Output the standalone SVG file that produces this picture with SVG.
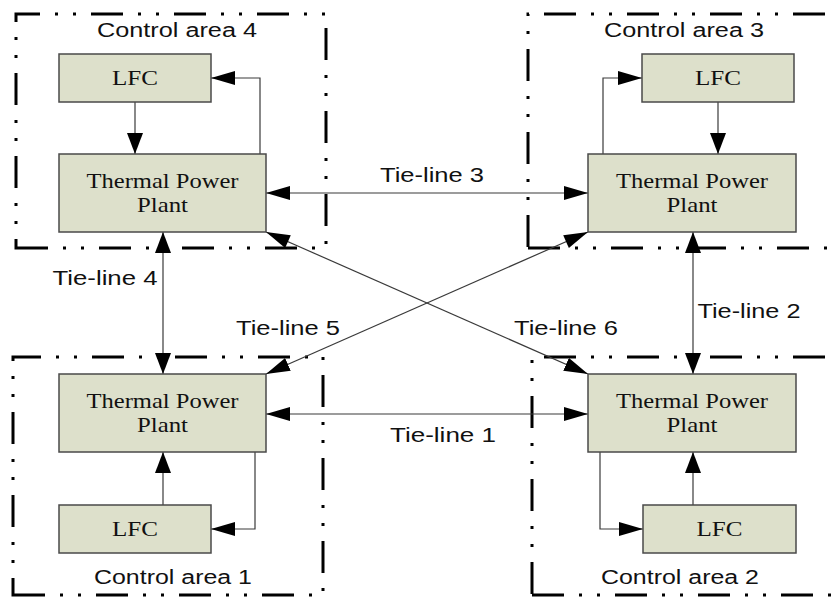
<svg xmlns="http://www.w3.org/2000/svg" width="833" height="597" viewBox="0 0 833 597">
<style>
.area{fill:none;stroke:#000;stroke-width:3;stroke-dasharray:32 15 3 15 3 15}
.box{fill:#dde0cb;stroke:#4a4a4a;stroke-width:1.5}
.serif{font-family:"Liberation Serif","Times New Roman",serif;font-size:21px;fill:#111;text-anchor:middle}
.sans{font-family:"Liberation Sans",Arial,sans-serif;font-size:20px;fill:#111;text-anchor:middle}
.ln{fill:none;stroke:#3a3a3a;stroke-width:1.2}
.h{marker-end:url(#ah)}
.hs{marker-start:url(#ahs)}
.v{marker-end:url(#av)}
.vs{marker-start:url(#avs)}
</style>
<defs>
<marker id="ah" markerUnits="userSpaceOnUse" markerWidth="26" markerHeight="16" refX="24" refY="7" orient="auto"><path d="M0,0 L24,7 L0,14 z" fill="#000"/></marker>
<marker id="ahs" markerUnits="userSpaceOnUse" markerWidth="26" markerHeight="16" refX="0" refY="7" orient="auto"><path d="M24,0 L0,7 L24,14 z" fill="#000"/></marker>
<marker id="av" markerUnits="userSpaceOnUse" markerWidth="24" markerHeight="18" refX="21" refY="8" orient="auto"><path d="M0,0 L21,8 L0,16 z" fill="#000"/></marker>
<marker id="avs" markerUnits="userSpaceOnUse" markerWidth="24" markerHeight="18" refX="0" refY="8" orient="auto"><path d="M21,0 L0,8 L21,16 z" fill="#000"/></marker>
</defs>

<g id="area4">
<path class="area" d="M16,248 H326 V14 H16 Z"/>
<text class="sans" x="177" y="37" textLength="160" lengthAdjust="spacingAndGlyphs">Control area 4</text>
</g>
<g id="area3">
<path class="area" d="M528,248 H850 V14 H528 Z"/>
<text class="sans" x="684" y="37" textLength="160" lengthAdjust="spacingAndGlyphs">Control area 3</text>
</g>
<g id="area1">
<path class="area" d="M13,595 H323 V357 H13 Z"/>
<text class="sans" x="173" y="584" textLength="158" lengthAdjust="spacingAndGlyphs">Control area 1</text>
</g>
<g id="area2">
<path class="area" d="M532,595 H850 V357 H532 Z"/>
<text class="sans" x="680" y="584" textLength="158" lengthAdjust="spacingAndGlyphs">Control area 2</text>
</g>

<g id="connectors">
<path class="ln v" d="M135,102 V154"/>
<path class="ln h" d="M260,154 V78 H211"/>
<path class="ln v" d="M718,102 V154"/>
<path class="ln h" d="M603,154 V78 H642"/>
<path class="ln v" d="M163,505 V452"/>
<path class="ln h" d="M255,452 V529 H211"/>
<path class="ln v" d="M693,505 V452"/>
<path class="ln h" d="M600,452 V529 H643"/>
<path class="ln h hs" d="M266,193 H588"/>
<path class="ln h hs" d="M266,414 H588"/>
<path class="ln v vs" d="M163,232 V374"/>
<path class="ln v vs" d="M693,232 V374"/>
<path class="ln h hs" d="M588,232 L266,374"/>
<path class="ln h hs" d="M266,232 L588,374"/>
</g>

<g id="lfc4"><rect class="box" x="59" y="54" width="152" height="48"/><text class="serif" x="135" y="85" textLength="46" lengthAdjust="spacingAndGlyphs">LFC</text></g>
<g id="tpp4"><rect class="box" x="59" y="154" width="207" height="78"/><text class="serif" x="162.5" y="188" textLength="152" lengthAdjust="spacingAndGlyphs">Thermal Power</text><text class="serif" x="162.5" y="212" textLength="51" lengthAdjust="spacingAndGlyphs">Plant</text></g>

<g id="lfc3"><rect class="box" x="642" y="54" width="152" height="48"/><text class="serif" x="718" y="85" textLength="46" lengthAdjust="spacingAndGlyphs">LFC</text></g>
<g id="tpp3"><rect class="box" x="588" y="154" width="208" height="78"/><text class="serif" x="692" y="188" textLength="152" lengthAdjust="spacingAndGlyphs">Thermal Power</text><text class="serif" x="692" y="212" textLength="51" lengthAdjust="spacingAndGlyphs">Plant</text></g>

<g id="tpp1"><rect class="box" x="59" y="374" width="207" height="78"/><text class="serif" x="162.5" y="408" textLength="152" lengthAdjust="spacingAndGlyphs">Thermal Power</text><text class="serif" x="162.5" y="432" textLength="51" lengthAdjust="spacingAndGlyphs">Plant</text></g>
<g id="lfc1"><rect class="box" x="59" y="505" width="152" height="48"/><text class="serif" x="135" y="536" textLength="46" lengthAdjust="spacingAndGlyphs">LFC</text></g>

<g id="tpp2"><rect class="box" x="588" y="374" width="208" height="78"/><text class="serif" x="692" y="408" textLength="152" lengthAdjust="spacingAndGlyphs">Thermal Power</text><text class="serif" x="692" y="432" textLength="51" lengthAdjust="spacingAndGlyphs">Plant</text></g>
<g id="lfc2"><rect class="box" x="643" y="505" width="153" height="48"/><text class="serif" x="719.5" y="536" textLength="46" lengthAdjust="spacingAndGlyphs">LFC</text></g>

<g id="labels">
<text class="sans" x="432" y="182" textLength="104" lengthAdjust="spacingAndGlyphs">Tie-line 3</text>
<text class="sans" x="443" y="442" textLength="106" lengthAdjust="spacingAndGlyphs">Tie-line 1</text>
<text class="sans" x="105" y="285" textLength="105" lengthAdjust="spacingAndGlyphs">Tie-line 4</text>
<text class="sans" x="749" y="318" textLength="103" lengthAdjust="spacingAndGlyphs">Tie-line 2</text>
<text class="sans" x="288" y="335" textLength="104" lengthAdjust="spacingAndGlyphs">Tie-line 5</text>
<text class="sans" x="566" y="335" textLength="104" lengthAdjust="spacingAndGlyphs">Tie-line 6</text>
</g>
</svg>
